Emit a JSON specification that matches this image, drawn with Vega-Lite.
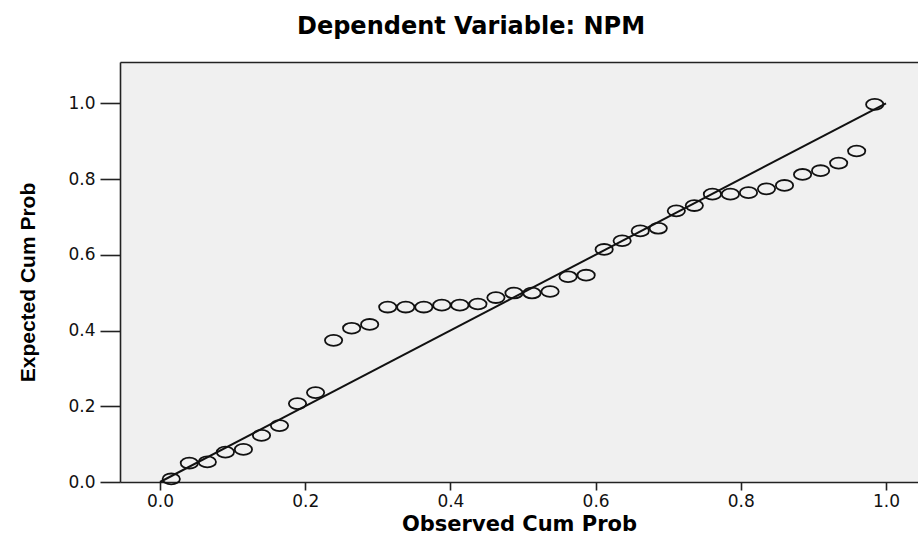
{
  "$schema": "https://vega.github.io/schema/vega-lite/v6.json",
  "width": 798,
  "height": 420,
  "autosize": {"type": "none"},
  "padding": {"left": 120, "top": 62, "right": 0, "bottom": 55},
  "background": "white",
  "title": {
    "text": "Dependent Variable: NPM",
    "font": "DejaVu Sans",
    "fontSize": 24,
    "fontWeight": "bold",
    "color": "#000000",
    "anchor": "middle",
    "frame": "group",
    "dx": -48,
    "offset": 23
  },
  "config": {
    "view": {"stroke": null, "fill": "#f0f0f0"},
    "axis": {
      "grid": false,
      "domainColor": "#222222",
      "domainWidth": 1.6,
      "tickColor": "#222222",
      "tickWidth": 1.6,
      "labelFont": "DejaVu Sans",
      "labelFontSize": 17,
      "labelColor": "#111111",
      "titleColor": "#000000"
    }
  },
  "datasets": {
    "points": [
      {"observed": 0.0155, "expected": 0.008},
      {"observed": 0.0404, "expected": 0.050},
      {"observed": 0.0652, "expected": 0.053},
      {"observed": 0.0901, "expected": 0.079},
      {"observed": 0.1149, "expected": 0.086},
      {"observed": 0.1398, "expected": 0.123},
      {"observed": 0.1646, "expected": 0.149},
      {"observed": 0.1894, "expected": 0.207},
      {"observed": 0.2143, "expected": 0.236},
      {"observed": 0.2391, "expected": 0.374},
      {"observed": 0.2640, "expected": 0.406},
      {"observed": 0.2888, "expected": 0.416},
      {"observed": 0.3137, "expected": 0.462},
      {"observed": 0.3385, "expected": 0.462},
      {"observed": 0.3634, "expected": 0.462},
      {"observed": 0.3882, "expected": 0.467},
      {"observed": 0.4130, "expected": 0.467},
      {"observed": 0.4379, "expected": 0.470},
      {"observed": 0.4627, "expected": 0.487},
      {"observed": 0.4876, "expected": 0.499},
      {"observed": 0.5124, "expected": 0.499},
      {"observed": 0.5373, "expected": 0.503},
      {"observed": 0.5621, "expected": 0.542},
      {"observed": 0.5870, "expected": 0.546},
      {"observed": 0.6118, "expected": 0.614},
      {"observed": 0.6366, "expected": 0.637},
      {"observed": 0.6615, "expected": 0.663},
      {"observed": 0.6863, "expected": 0.670},
      {"observed": 0.7112, "expected": 0.716},
      {"observed": 0.7360, "expected": 0.730},
      {"observed": 0.7609, "expected": 0.760},
      {"observed": 0.7857, "expected": 0.760},
      {"observed": 0.8106, "expected": 0.764},
      {"observed": 0.8354, "expected": 0.774},
      {"observed": 0.8602, "expected": 0.783},
      {"observed": 0.8851, "expected": 0.812},
      {"observed": 0.9099, "expected": 0.822},
      {"observed": 0.9348, "expected": 0.842},
      {"observed": 0.9596, "expected": 0.874},
      {"observed": 0.9845, "expected": 0.997}
    ],
    "ref": [
      {"x": 0, "y": 0, "x2": 1, "y2": 1}
    ]
  },
  "resolve": {"axis": {"x": "independent"}},
  "layer": [
    {
      "data": {"name": "ref"},
      "mark": {"type": "rule", "color": "#111111", "strokeWidth": 2},
      "encoding": {
        "x": {
          "field": "x",
          "type": "quantitative",
          "scale": {"domain": [-0.0551, 1.0441], "nice": false, "zero": false},
          "axis": {"orient": "top", "labels": false, "ticks": false, "title": null, "domain": true}
        },
        "y": {
          "field": "y",
          "type": "quantitative",
          "scale": {"domain": [0, 1.109], "nice": false, "zero": false},
          "axis": {
            "orient": "left",
            "values": [0, 0.2, 0.4, 0.6, 0.8, 1.0],
            "format": ".1f",
            "tickSize": 20,
            "labelPadding": 5,
            "title": "Expected Cum Prob",
            "titleFont": "Liberation Sans",
            "titleFontSize": 21,
            "titleFontWeight": "bold",
            "titleAngle": 270,
            "titleBaseline": "middle",
            "titleX": -92,
            "titleY": 220
          }
        },
        "x2": {"field": "x2"},
        "y2": {"field": "y2"}
      }
    },
    {
      "data": {"name": "points"},
      "mark": {
        "type": "point",
        "shape": "M-1,0A1,0.63,0,1,0,1,0A1,0.63,0,1,0,-1,0Z",
        "size": 300,
        "filled": false,
        "stroke": "#111111",
        "strokeWidth": 1.8,
        "opacity": 1
      },
      "encoding": {
        "x": {
          "field": "observed",
          "type": "quantitative",
          "scale": {"domain": [-0.0551, 1.0441], "nice": false, "zero": false},
          "axis": {
            "orient": "bottom",
            "values": [0, 0.2, 0.4, 0.6, 0.8, 1.0],
            "format": ".1f",
            "tickSize": 8,
            "labelPadding": 3,
            "title": "Observed Cum Prob",
            "titleFont": "DejaVu Sans",
            "titleFontSize": 21,
            "titleFontWeight": "bold",
            "titlePadding": 4
          }
        },
        "y": {
          "field": "expected",
          "type": "quantitative",
          "scale": {"domain": [0, 1.109], "nice": false, "zero": false}
        }
      }
    }
  ]
}
